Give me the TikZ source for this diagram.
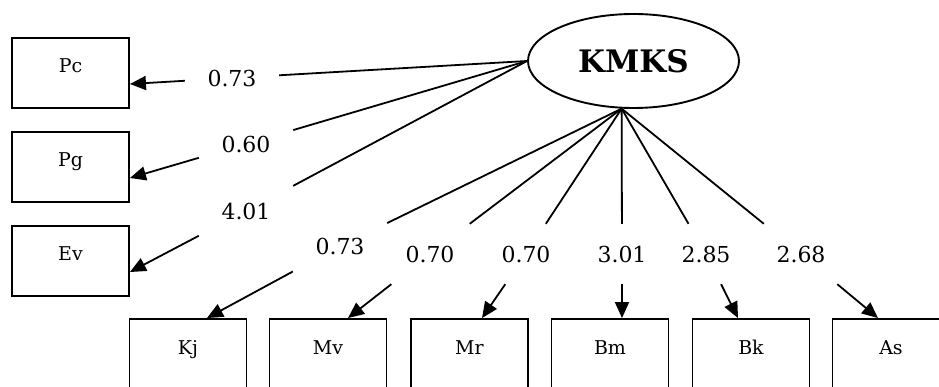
\documentclass[tikz,border=0pt]{standalone}
\usepackage{fontspec}
\setmainfont{DejaVu Serif}
\usetikzlibrary{arrows.meta,shapes.geometric}

\begin{document}
\begin{tikzpicture}[
  x=1pt, y=-1pt,
  obs/.style={rectangle, draw, line width=1.9pt, minimum width=117pt, minimum height=70pt, inner sep=0pt, text height=10pt, text depth=10pt, font=\fontsize{19}{22}\selectfont},
  latent/.style={ellipse, draw, line width=1.9pt, minimum width=211pt, minimum height=94pt, inner sep=0pt, font=\fontsize{31}{36}\selectfont\bfseries},
  coef/.style={rectangle, minimum width=94pt, minimum height=60pt, inner sep=0pt, font=\fontsize{22}{26}\selectfont},
  load/.style={line width=1.8pt},
  loadarrow/.style={line width=1.8pt, -{Triangle[length=16pt, width=14pt]}},
]

\useasboundingbox (0,0) rectangle (939,387);
\clip (0,0) rectangle (939,387);

% ─── Latent factor ───
\node[latent] (K) at (633.5,61) {KMKS};

% ─── Left indicators ───
\node[obs] (pc) at (70.5,73) {Pc};
\node[obs] (pg) at (70.5,167) {Pg};
\node[obs] (ev) at (70.5,261) {Ev};

% ─── Bottom indicators ───
\node[obs] (kj) at (188,354) {Kj};
\node[obs] (mv) at (328,354) {Mv};
\node[obs] (mr) at (469.5,354) {Mr};
\node[obs] (bm) at (610,354) {Bm};
\node[obs] (bk) at (751,354) {Bk};
\node[obs] (as) at (891,354) {As};

% Loadings
\node[coef] (l1) at (232,78) {0.73};
\node[coef] (l2) at (246,144) {0.60};
\node[coef] (l3) at (246,211) {4.01};
\node[coef] (l4) at (340,246) {0.73};
\node[coef] (l5) at (430,254) {0.70};
\node[coef] (l6) at (526,254) {0.70};
\node[coef] (l7) at (622,254) {3.01};
\node[coef] (l8) at (706,254) {2.85};
\node[coef] (l9) at (801,254) {2.68};

% Paths from the factor (split at the loading)
\draw[load] (K.west) -- (l1);
\draw[loadarrow] (l1) -- ([yshift=-11pt]pc.east);
\draw[load] (K.west) -- (l2);
\draw[loadarrow] (l2) -- ([yshift=-11pt]pg.east);
\draw[load] (K.west) -- (l3);
\draw[loadarrow] (l3) -- ([yshift=-11pt]ev.east);

\draw[load] (K.256) -- (l4);
\draw[loadarrow] (l4) -- ([xshift=19pt]kj.north);
\draw[load] (K.256) -- (l5);
\draw[loadarrow] (l5) -- ([xshift=20pt]mv.north);
\draw[load] (K.256) -- (l6);
\draw[loadarrow] (l6) -- ([xshift=12.5pt]mr.north);
\draw[load] (K.256) -- (l7);
\draw[loadarrow] (l7) -- ([xshift=12pt]bm.north);
\draw[load] (K.256) -- (l8);
\draw[loadarrow] (l8) -- ([xshift=-13pt]bk.north);
\draw[load] (K.256) -- (l9);
\draw[loadarrow] (l9) -- ([xshift=-13pt]as.north);

\end{tikzpicture}
\end{document}
